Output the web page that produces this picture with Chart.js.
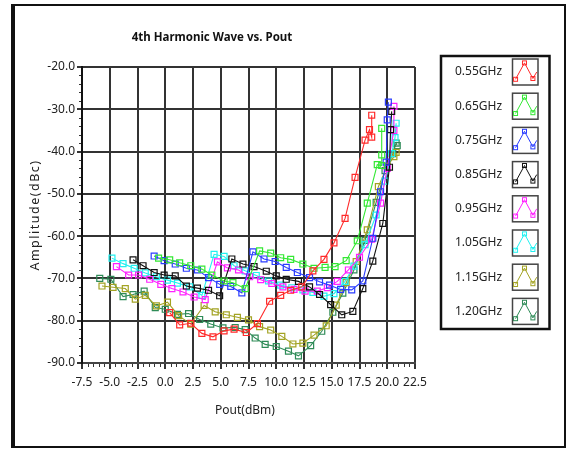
<!DOCTYPE html>
<html lang="en">
<head>
<meta charset="UTF-8">
<title>4th Harmonic Wave vs. Pout</title>
<script src="https://cdn.jsdelivr.net/npm/chart.js@4"></script>
<style>
  html, body { margin: 0; padding: 0; background: #fff; }
  #wrap { width: 569px; height: 449px; position: relative; }
</style>
</head>
<body>
<div id="wrap"><canvas id="myChart" width="569" height="449"></canvas></div>
<script>
// series values: Pout (dBm) and amplitude (dBc)
var labels = ['0.55GHz', '0.65GHz', '0.75GHz', '0.85GHz', '0.95GHz', '1.05GHz', '1.15GHz', '1.20GHz'];
var colors = ['#ff2a2a', '#33e833', '#2a3cff', '#111111', '#ff22ff', '#22f0f0', '#a3a323', '#2e8b57'];

var x055 = [0.4, 1.3, 2.3, 3.3, 4.3, 5.3, 6.2, 7.3, 8.3, 9.4, 10.4, 11.3, 12.3, 13.3, 14.3, 15.2, 16.2, 17.1, 18.0, 18.4, 18.6, 18.6];
var y055 = [-78.1, -81.0, -80.6, -83.0, -83.8, -82.4, -82.0, -82.8, -80.7, -75.4, -74.0, -72.8, -72.0, -68.2, -65.5, -61.6, -55.8, -46.1, -37.3, -34.8, -36.6, -31.4];

var x065 = [-0.6, 0.4, 1.3, 2.3, 3.3, 4.2, 5.3, 6.1, 7.2, 8.5, 9.5, 10.4, 11.3, 12.4, 13.4, 14.4, 15.3, 16.3, 17.3, 18.2, 19.1, 19.5, 19.5, 19.5];
var y065 = [-65.2, -65.6, -66.3, -67.0, -67.8, -69.2, -70.6, -71.0, -72.4, -63.5, -64.0, -65.1, -65.5, -66.6, -67.6, -67.4, -67.2, -65.8, -61.1, -52.2, -43.1, -43.3, -40.8, -34.5];

var x075 = [-1.0, -0.1, 0.9, 1.9, 2.9, 3.9, 4.9, 5.9, 6.9, 7.9, 8.9, 9.9, 10.9, 11.9, 13.0, 13.9, 14.8, 15.8, 16.8, 17.8, 18.7, 19.4, 19.9, 20.0, 20.1];
var y075 = [-64.7, -65.8, -66.6, -67.6, -68.0, -69.8, -71.4, -71.9, -73.4, -63.7, -65.4, -66.0, -67.4, -68.6, -69.8, -70.8, -71.6, -72.6, -72.7, -70.6, -60.5, -49.5, -42.5, -32.5, -28.3];

var x085 = [-2.9, -2.0, -1.0, -0.1, 0.9, 1.9, 2.9, 3.9, 4.9, 6.0, 7.0, 8.0, 9.1, 10.0, 10.9, 12.0, 13.0, 13.9, 14.9, 15.9, 16.9, 17.8, 18.7, 19.6, 20.2, 20.3, 20.4];
var y085 = [-65.6, -67.0, -68.6, -69.2, -69.4, -71.8, -72.3, -72.8, -74.1, -65.4, -66.6, -67.2, -68.3, -69.4, -70.2, -70.7, -72.0, -73.8, -76.2, -78.6, -77.8, -72.4, -65.9, -57.0, -43.7, -34.8, -30.5];

var x095 = [-4.4, -3.3, -2.4, -1.4, -0.4, 0.6, 1.6, 2.6, 3.6, 4.7, 5.6, 6.6, 7.6, 8.6, 9.6, 10.6, 11.6, 12.6, 13.7, 14.6, 15.5, 16.5, 17.5, 18.6, 19.4, 20.0, 20.6, 20.6];
var y095 = [-67.2, -69.2, -69.2, -70.2, -71.4, -72.4, -73.2, -74.4, -75.0, -66.1, -67.5, -68.0, -69.6, -70.3, -71.2, -72.0, -72.6, -73.0, -73.0, -72.2, -70.7, -68.0, -65.0, -60.7, -52.2, -44.0, -35.0, -29.3];

var x105 = [-4.8, -3.8, -2.8, -1.8, -0.8, 0.2, 1.1, 2.2, 3.3, 4.4, 5.3, 6.2, 7.2, 8.2, 9.3, 10.4, 11.4, 12.4, 13.3, 14.3, 15.2, 16.2, 17.0, 18.0, 19.0, 19.8, 20.4, 20.7, 20.8];
var y105 = [-65.2, -66.5, -67.6, -68.7, -69.6, -70.4, -71.1, -72.0, -74.0, -64.3, -64.8, -67.0, -68.2, -69.3, -70.6, -71.6, -72.2, -72.7, -73.3, -74.2, -73.6, -70.7, -67.1, -62.0, -55.0, -47.0, -40.5, -36.7, -33.3];

var x115 = [-5.7, -4.7, -3.6, -2.7, -1.8, -0.8, 0.2, 1.2, 2.3, 3.5, 4.5, 5.5, 6.5, 7.5, 8.5, 9.5, 10.5, 11.5, 12.4, 13.4, 14.5, 15.4, 16.3, 17.2, 18.2, 19.2, 20.0, 20.6, 20.8];
var y115 = [-71.8, -72.1, -72.4, -74.9, -74.0, -76.5, -75.6, -78.8, -80.8, -76.4, -77.9, -78.6, -79.2, -79.8, -81.4, -82.2, -83.7, -85.5, -85.3, -83.4, -81.2, -76.3, -71.0, -66.0, -58.5, -48.3, -43.5, -41.2, -40.2];

var x120 = [-5.9, -4.9, -3.8, -2.9, -1.9, -0.9, 0.0, 1.1, 2.1, 3.1, 4.1, 5.2, 6.3, 7.2, 8.1, 9.0, 10.0, 11.1, 12.0, 13.1, 14.1, 15.1, 16.0, 17.0, 18.0, 19.0, 19.8, 20.5, 20.8, 20.9];
var y120 = [-70.0, -70.2, -74.3, -73.8, -73.0, -76.9, -77.3, -78.5, -78.3, -79.7, -80.8, -81.7, -81.6, -82.1, -84.1, -85.6, -86.1, -87.2, -88.3, -85.9, -82.5, -78.0, -73.5, -68.0, -61.0, -52.0, -44.5, -40.5, -38.0, -38.6];

var xs = [x055, x065, x075, x085, x095, x105, x115, x120];
var ys = [y055, y065, y075, y085, y095, y105, y115, y120];

var datasets = labels.map(function (name, k) {
    return {
        label: name,
        data: xs[k].map(function (v, i) { return {x: v, y: ys[k][i]}; }),
        borderColor: colors[k],
        borderWidth: 1.1,
        pointStyle: 'rect',
        pointRadius: 4.2,
        pointBorderWidth: 1.2,
        pointBorderColor: colors[k],
        pointBackgroundColor: 'rgba(255,255,255,0)',
        tension: 0
    };
});

var FONT = '"Noto Sans", sans-serif';

// frame, title, axis titles, minor ticks and the legend box
var decor = {
    id: 'decor',
    afterDraw: function (chart) {
        var c = chart.ctx, a = chart.chartArea;
        var sx = chart.scales.x, sy = chart.scales.y;
        c.save();

        // minor ticks
        c.strokeStyle = '#333';
        c.lineWidth = 1;
        c.beginPath();
        for (var v = -7.5; v <= 22.51; v += 0.5) {
            if (Math.abs((v + 7.5) % 2.5) < 0.01) continue;
            var px = Math.round(sx.getPixelForValue(v)) + 0.5;
            c.moveTo(px, a.bottom + 1);
            c.lineTo(px, a.bottom + 4);
        }
        for (var w = -90; w <= -20; w += 2) {
            if (w % 10 === 0) continue;
            var py = Math.round(sy.getPixelForValue(w)) + 0.5;
            c.moveTo(a.left - 3, py);
            c.lineTo(a.left - 1, py);
        }
        c.stroke();

        // outer frame
        c.strokeStyle = '#111';
        c.lineWidth = 2;
        c.strokeRect(13, 5, 552, 442);
        c.lineWidth = 4;
        c.beginPath();
        c.moveTo(13, 4);
        c.lineTo(13, 448);
        c.stroke();

        // title
        c.fillStyle = '#111';
        c.textAlign = 'center';
        c.textBaseline = 'middle';
        c.font = 'bold 11.5px ' + FONT;
        c.fillText('4th Harmonic Wave vs. Pout', 212, 38);

        // axis titles
        c.font = '12px ' + FONT;
        c.fillStyle = '#222';
        c.fillText('Pout(dBm)', 245, 411);
        c.save();
        c.translate(35, 215);
        c.rotate(-Math.PI / 2);
        c.font = '12.5px ' + FONT;
        c.letterSpacing = '1.5px';
        c.fillText('Amplitude(dBc)', 0, 0);
        c.restore();

        // legend
        c.strokeStyle = '#111';
        c.lineWidth = 2.5;
        c.strokeRect(441, 56, 108.5, 273);
        labels.forEach(function (name, k) {
            var y0 = 59 + k * 34.2;
            c.font = '12px ' + FONT;
            c.fillStyle = '#222';
            c.textAlign = 'left';
            c.fillText(name, 455, y0 + 13);
            c.strokeStyle = '#444';
            c.lineWidth = 1.5;
            c.strokeRect(512.5, y0, 25.5, 26);
            var pts = [[0.12, 0.78], [0.47, 0.15], [0.8, 0.75], [0.95, 0.5]];
            c.strokeStyle = colors[k];
            c.lineWidth = 1;
            c.beginPath();
            pts.forEach(function (p, i) {
                var px = 512.5 + p[0] * 25.5, py = y0 + p[1] * 26;
                if (i === 0) c.moveTo(px, py); else c.lineTo(px, py);
            });
            c.stroke();
            pts.slice(0, 3).forEach(function (p) {
                var px = 512.5 + p[0] * 25.5, py = y0 + p[1] * 26;
                c.strokeRect(px - 2, py - 2, 4, 4);
            });
        });
        c.restore();
    }
};

var ctx = document.getElementById('myChart');
var myChart = new Chart(ctx, {
    type: 'line',
    data: {datasets: datasets},
    options: {
        responsive: false,
        animation: false,
        devicePixelRatio: 1,
        layout: {padding: {left: 20, top: 67, right: 154, bottom: 0}},
        plugins: {legend: {display: false}, tooltip: {enabled: false}, title: {display: false}},
        scales: {
            x: {
                type: 'linear',
                min: -7.5,
                max: 22.5,
                afterFit: function (s) { s.height = 86; },
                ticks: {
                    stepSize: 2.5,
                    autoSkip: false,
                    maxRotation: 0,
                    padding: 6,
                    color: '#222',
                    font: {family: FONT, size: 12},
                    callback: function (v) { return Number(v).toFixed(1); }
                },
                grid: {color: '#333', lineWidth: 2, tickLength: 6, tickColor: '#333'},
                border: {color: '#444', width: 2}
            },
            y: {
                type: 'linear',
                min: -90,
                max: -20,
                afterFit: function (s) { s.width = 62; },
                ticks: {
                    stepSize: 10,
                    padding: 2,
                    color: '#222',
                    font: {family: FONT, size: 12},
                    callback: function (v) { return Number(v).toFixed(1); }
                },
                grid: {color: '#333', lineWidth: 2, tickLength: 5, tickColor: '#333'},
                border: {color: '#111', width: 2}
            }
        }
    },
    plugins: [decor]
});
</script>
</body>
</html>
